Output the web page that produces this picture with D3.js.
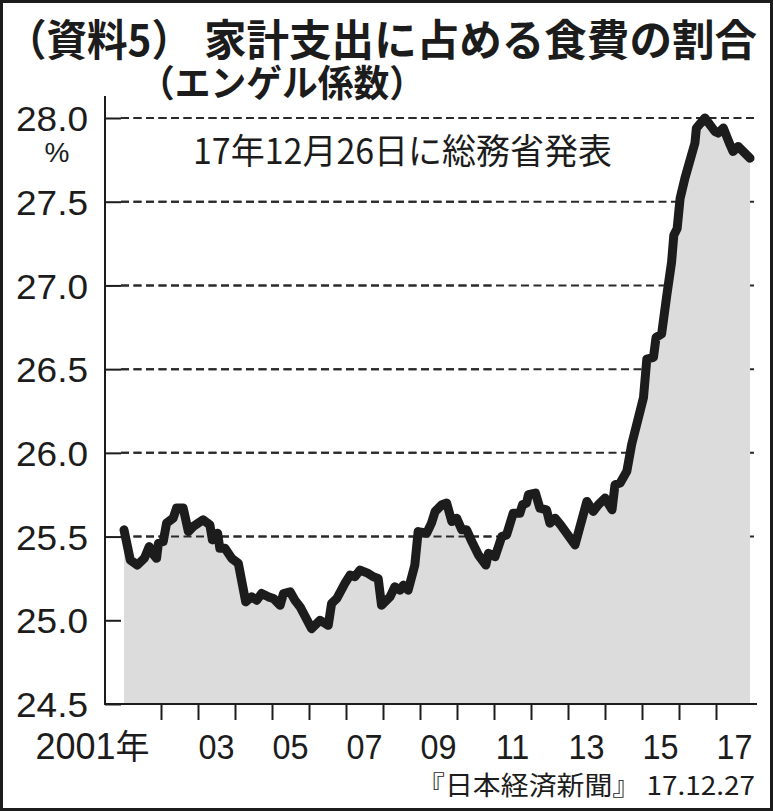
<!DOCTYPE html>
<html><head><meta charset="utf-8">
<script src="https://cdn.jsdelivr.net/npm/d3@7"></script>
<style>body{margin:0;background:#fff}svg{display:block}</style>
</head><body><svg id="c" width="773" height="811"></svg>
<script>
// Estimated Engel coefficient readings (decimal year, %)
const years = [2001.00,2001.17,2001.36,2001.55,2001.68,2001.77,2001.88,2001.93,2002.06,2002.15,2002.33,2002.42,2002.60,2002.74,2002.87,2003.14,2003.32,2003.39,2003.53,2003.59,2003.73,2003.91,2004.09,2004.29,2004.45,2004.59,2004.72,2004.90,2005.04,2005.22,2005.31,2005.49,2005.62,2005.76,2006.07,2006.30,2006.52,2006.61,2006.75,2006.97,2007.11,2007.24,2007.38,2007.60,2007.74,2007.87,2007.96,2008.19,2008.32,2008.46,2008.55,2008.68,2008.86,2008.95,2009.18,2009.31,2009.41,2009.59,2009.72,2009.86,2009.99,2010.13,2010.26,2010.40,2010.58,2010.78,2010.85,2011.03,2011.12,2011.21,2011.34,2011.52,2011.70,2011.77,2011.88,2011.93,2012.12,2012.24,2012.42,2012.51,2012.65,2012.80,2013.19,2013.51,2013.68,2013.82,2014.00,2014.19,2014.27,2014.41,2014.59,2014.72,2015.04,2015.13,2015.31,2015.38,2015.53,2015.67,2015.80,2015.86,2015.95,2016.03,2016.16,2016.25,2016.43,2016.47,2016.70,2016.97,2017.06,2017.20,2017.38,2017.46,2017.60,2017.92];
const values = [25.54,25.36,25.33,25.37,25.44,25.40,25.37,25.46,25.47,25.58,25.61,25.67,25.67,25.53,25.56,25.60,25.57,25.48,25.52,25.43,25.43,25.37,25.34,25.11,25.14,25.12,25.16,25.14,25.13,25.09,25.16,25.17,25.12,25.08,24.95,25.00,24.97,25.10,25.13,25.22,25.27,25.26,25.30,25.28,25.26,25.25,25.09,25.14,25.20,25.18,25.21,25.18,25.33,25.53,25.52,25.58,25.65,25.69,25.70,25.59,25.61,25.54,25.54,25.47,25.39,25.33,25.40,25.38,25.44,25.50,25.51,25.64,25.64,25.69,25.70,25.75,25.76,25.67,25.66,25.58,25.61,25.57,25.45,25.71,25.65,25.69,25.73,25.66,25.81,25.82,25.89,26.05,26.33,26.56,26.57,26.69,26.71,26.94,27.14,27.30,27.34,27.52,27.64,27.71,27.85,27.94,28.00,27.92,27.91,27.94,27.84,27.80,27.83,27.76];

const yTickValues = [24.5,25.0,25.5,26.0,26.5,27.0,27.5,28.0];
const gridLevels = [25.5,26.0,26.5,27.0,27.5,28.0];
const xTickYears = [2002,2003,2004,2005,2006,2007,2008,2009,2010,2011,2012,2013,2014,2015,2016,2017];
const xLabelYears = [2001,2003,2005,2007,2009,2011,2013,2015,2017];
const xLabels = ["2001年","03","05","07","09","11","13","15","17"];

const titleText = "（資料5）";
const titleText2 = "家計支出に占める食費の割合";
const subtitleText = "（エンゲル係数）";
const noteText = "17年12月26日に総務省発表";
const unitText = "%";
const sourceText = "『日本経済新聞』 17.12.27";

const W = 773, H = 811;
const ink = "#1c1c1c";
const svg = d3.select("#c");
const jp = "'Noto Sans CJK JP', sans-serif";
const num = "'Liberation Sans', Arial, sans-serif";

svg.append("rect").attr("x",1.5).attr("y",1.5).attr("width",W-3).attr("height",H-3)
  .attr("fill","#fff").attr("stroke",ink).attr("stroke-width",3);

const x = d3.scaleLinear().domain([2001,2018]).range([124,753]);
const y = d3.scaleLinear().domain([24.5,28.0]).range([704,118]);
const data = years.map((t,i)=>({t, v: values[i]}));

function drawGrid(g){
  g.selectAll("line").data(gridLevels).join("line")
    .attr("x1",121).attr("x2",758)
    .attr("y1",d=>y(d)).attr("y2",d=>y(d))
    .attr("stroke","#2a2a2a").attr("stroke-width",2)
    .attr("stroke-dasharray","8,4.5");
}
drawGrid(svg.append("g"));

svg.append("path").datum(data)
  .attr("d", d3.area().x(d=>x(d.t)).y0(y(24.5)).y1(d=>y(d.v)))
  .attr("fill","#dcdcdc");

svg.append("clipPath").attr("id","gclip").append("rect")
  .attr("x",0).attr("y",0).attr("width",x(2010.95)).attr("height",H);
drawGrid(svg.append("g").attr("clip-path","url(#gclip)"));

svg.append("path").datum(data)
  .attr("d", d3.line().x(d=>x(d.t)).y(d=>y(d.v)))
  .attr("fill","none").attr("stroke",ink).attr("stroke-width",9)
  .attr("stroke-linejoin","round").attr("stroke-linecap","round");

// y axis
const yAxis = d3.axisLeft(y).tickValues(yTickValues).tickSizeInner(-16).tickSizeOuter(0)
  .tickPadding(17).tickFormat(d=>d.toFixed(1));
const gy = svg.append("g").attr("transform","translate(105,0)").call(yAxis);
gy.select(".domain").remove();
gy.selectAll(".tick line").attr("stroke",ink).attr("stroke-width",2);
gy.selectAll(".tick text").attr("font-family",num).attr("font-size",35).attr("fill",ink)
  .attr("dy","0.36em").attr("textLength",72).attr("lengthAdjust","spacingAndGlyphs");
svg.append("line").attr("x1",105).attr("x2",105).attr("y1",96).attr("y2",705)
  .attr("stroke",ink).attr("stroke-width",2);

// x axis
const xAxis = d3.axisBottom(x).tickValues(xTickYears).tickSizeInner(16).tickSizeOuter(0).tickFormat("");
const gx = svg.append("g").attr("transform","translate(0,704)").call(xAxis);
gx.select(".domain").remove();
gx.selectAll(".tick line").attr("stroke",ink).attr("stroke-width",2);
svg.append("line").attr("x1",104).attr("x2",757).attr("y1",704).attr("y2",704)
  .attr("stroke",ink).attr("stroke-width",2);

svg.append("g").selectAll("text").data(xLabelYears).join("text")
  .attr("transform",(d,i)=> i===0 ? `translate(${x(d+0.5)+7},759)` : `translate(${x(d+0.5)},759) scale(0.9,1)`)
  .attr("text-anchor",(d,i)=> i===0 ? "end" : "middle")
  .attr("font-family",num).attr("font-size",36).attr("fill",ink)
  .each(function(d,i){
    const t = d3.select(this);
    const lab = xLabels[i];
    if (lab.endsWith("年")) {
      t.append("tspan").text(lab.slice(0,-1));
      t.append("tspan").attr("font-family",jp).attr("font-size",34).text("年");
    } else t.text(lab);
  });

// titles
svg.append("text").attr("x",6).attr("y",56).attr("font-family",jp).attr("font-weight",700)
  .attr("font-size",43).attr("fill",ink).attr("textLength",186).attr("lengthAdjust","spacingAndGlyphs")
  .text(titleText);
svg.append("text").attr("x",204).attr("y",56).attr("font-family",jp).attr("font-weight",700)
  .attr("font-size",43).attr("fill",ink).attr("textLength",553).attr("lengthAdjust","spacingAndGlyphs")
  .text(titleText2);
svg.append("text").attr("x",139).attr("y",97).attr("font-family",jp).attr("font-weight",700)
  .attr("font-size",37).attr("fill",ink).attr("textLength",286).attr("lengthAdjust","spacingAndGlyphs")
  .text(subtitleText);

svg.append("text").attr("x",193).attr("y",164).attr("font-family",jp)
  .attr("font-size",35).attr("fill",ink).attr("textLength",419).attr("lengthAdjust","spacingAndGlyphs")
  .text(noteText);

svg.append("text").attr("x",57).attr("y",162).attr("text-anchor","middle").attr("font-family",num)
  .attr("font-size",28).attr("fill",ink).text(unitText);

svg.append("text").attr("x",755).attr("y",795).attr("text-anchor","end").attr("font-family",jp)
  .attr("font-size",26).attr("fill",ink).attr("textLength",338).attr("lengthAdjust","spacingAndGlyphs")
  .text(sourceText);
</script></body></html>
